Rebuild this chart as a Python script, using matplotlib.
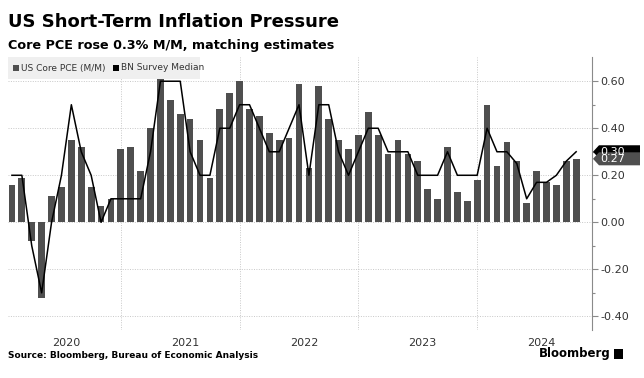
import matplotlib
matplotlib.use("Agg")
import matplotlib.pyplot as plt
from matplotlib.patches import Rectangle, Polygon
import numpy as np

# ---- data (monthly, Jan 2020 .. Oct 2024) ----
core_pce = [0.16, 0.19, -0.08, -0.32, 0.11, 0.15, 0.35, 0.32, 0.15, 0.07, 0.10, 0.31,
            0.32, 0.22, 0.40, 0.61, 0.52, 0.46, 0.44, 0.35, 0.19, 0.48, 0.55, 0.60,
            0.48, 0.45, 0.38, 0.35, 0.36, 0.59, 0.23, 0.58, 0.44, 0.35, 0.31, 0.37,
            0.47, 0.37, 0.29, 0.35, 0.29, 0.26, 0.14, 0.10, 0.32, 0.13, 0.09, 0.18,
            0.50, 0.24, 0.34, 0.26, 0.08, 0.22, 0.17, 0.16, 0.26, 0.27]
survey = [0.2, 0.2, -0.1, -0.3, 0.0, 0.2, 0.5, 0.3, 0.2, 0.0, 0.1, 0.1,
          0.1, 0.1, 0.3, 0.6, 0.6, 0.6, 0.3, 0.2, 0.2, 0.4, 0.4, 0.5,
          0.5, 0.4, 0.3, 0.3, 0.4, 0.5, 0.2, 0.5, 0.5, 0.3, 0.2, 0.3,
          0.4, 0.4, 0.3, 0.3, 0.3, 0.2, 0.2, 0.2, 0.3, 0.2, 0.2, 0.2,
          0.4, 0.3, 0.3, 0.25, 0.1, 0.17, 0.17, 0.2, 0.26, 0.3]
years = ["2020", "2021", "2022", "2023", "2024"]
y_ticks = [-0.4, -0.2, 0.0, 0.2, 0.4, 0.6]

W, H = 644, 378
fig = plt.figure(figsize=(W / 100, H / 100), dpi=100)
fig.patch.set_facecolor("white")

def fx(px):
    return px / W

def fy(py):
    return 1 - py / H

ax_l, ax_r, ax_t, ax_b = 8, 592, 57, 330
ax = fig.add_axes([fx(ax_l), fy(ax_b), fx(ax_r - ax_l), (ax_b - ax_t) / H])

x = np.arange(len(core_pce))
bar_color = "#4f4f4f"
ax.bar(x, core_pce, width=0.68, color=bar_color, zorder=3)
ax.plot(x, survey, color="black", lw=1.1, zorder=4)

ax.set_xlim(-0.4, 58.6)
ax.set_ylim(-0.458, 0.703)

# grid
for yt in y_ticks:
    ax.axhline(yt, color="#c8c8c8", lw=0.7, ls=(0, (1, 1.5)), zorder=1)
for k in range(1, len(years)):
    ax.axvline(12 * k - 1, color="#c8c8c8", lw=0.7, ls=(0, (1, 1.5)), zorder=1)

# axes styling
for s in ["left", "top", "bottom"]:
    ax.spines[s].set_visible(False)
ax.spines["right"].set_color("#8a8a8a")
ax.spines["right"].set_linewidth(0.8)
ax.yaxis.tick_right()
ax.set_yticks(y_ticks)
ax.set_yticklabels([("%.2f" % v).replace("\u2212", "-") for v in y_ticks])
ax.set_yticks(np.arange(-0.4, 0.61, 0.1), minor=True)
ax.tick_params(axis="y", which="major", length=4, width=0.8, color="#8a8a8a",
               labelsize=8, labelcolor="#333333", pad=2)
ax.tick_params(axis="y", which="minor", length=2, width=0.8, color="#8a8a8a")
ax.set_xticks([12 * k + 5.5 for k in range(len(years))])
ax.set_xticklabels(years)
ax.tick_params(axis="x", length=0, labelsize=8, labelcolor="#333333", pad=6)

# titles
fig.text(fx(8), fy(22), "US Short-Term Inflation Pressure", fontsize=13,
         fontweight="bold", va="center", ha="left", color="black")
fig.text(fx(8), fy(45), "Core PCE rose 0.3% M/M, matching estimates", fontsize=9.2,
         fontweight="bold", va="center", ha="left", color="black")

# legend
fig.patches.append(Rectangle((fx(8), fy(79)), fx(192), 22 / H, transform=fig.transFigure,
                             facecolor="#efefef", edgecolor="none", zorder=5))
fig.patches.append(Rectangle((fx(13), fy(71)), fx(6), 6 / H, transform=fig.transFigure,
                             facecolor=bar_color, edgecolor="none", zorder=6))
fig.text(fx(21), fy(68), "US Core PCE (M/M)", fontsize=6.5, color="#333333",
         va="center", ha="left", zorder=7)
fig.patches.append(Rectangle((fx(113), fy(71)), fx(6), 6 / H, transform=fig.transFigure,
                             facecolor="black", edgecolor="none", zorder=6))
fig.text(fx(121), fy(68), "BN Survey Median", fontsize=6.5, color="#333333",
         va="center", ha="left", zorder=7)

# value tags on right axis
def tag(val, color, txt_color="white"):
    _, ypix = ax.transData.transform((0, val))
    yc = ypix / fig.dpi / fig.get_size_inches()[1]
    h = 13 / H
    x0 = fx(593)
    x1 = fx(599)
    x2 = fx(640)
    poly = Polygon([(x0, yc), (x1, yc + h / 2), (x2, yc + h / 2), (x2, yc - h / 2),
                    (x1, yc - h / 2)], closed=True, transform=fig.transFigure,
                   facecolor=color, edgecolor="none", zorder=8)
    fig.patches.append(poly)
    fig.text(fx(600), yc, "%.2f" % val, fontsize=8, color=txt_color, va="center",
             ha="left", zorder=9)

tag(survey[-1], "black")
tag(core_pce[-1], "#4f4f4f")

# footer
fig.text(fx(8), fy(355), "Source: Bloomberg, Bureau of Economic Analysis", fontsize=6.5,
         fontweight="bold", va="center", ha="left", color="black")
fig.text(fx(611), fy(354), "Bloomberg", fontsize=8.5, fontweight="bold",
         va="center", ha="right", color="black")
fig.patches.append(Rectangle((fx(614), fy(359)), fx(9), 10 / H, transform=fig.transFigure,
                             facecolor="black", edgecolor="none"))

fig.savefig("out.png", dpi=100, facecolor="white")
